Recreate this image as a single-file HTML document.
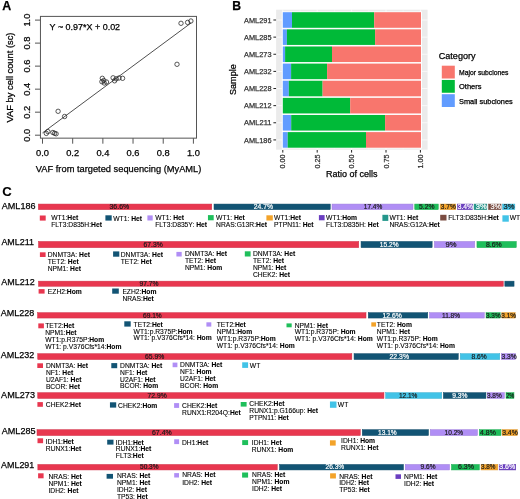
<!DOCTYPE html>
<html><head><meta charset="utf-8"><style>
html,body{margin:0;padding:0;background:#fff;}
svg{display:block;font-family:"Liberation Sans",sans-serif;will-change:transform;}
text{stroke:#000;stroke-width:0.1px;}
.h text{stroke-width:0.25px;}
</style></head><body>
<svg width="520" height="499" viewBox="0 0 520 499">
<g class="h">
<text x="2.2" y="10" font-size="12.4" font-weight="bold">A</text>
<rect x="40.45" y="16.4" width="156.05" height="121.75" fill="none" stroke="#555" stroke-width="1"/>
<line x1="35" y1="135.2" x2="40.45" y2="135.2" stroke="#555" stroke-width="1"/>
<text x="30.3" y="135.2" font-size="9.3" text-anchor="middle" transform="rotate(-90 30.3 135.2)">0.0</text>
<line x1="35" y1="112.18" x2="40.45" y2="112.18" stroke="#555" stroke-width="1"/>
<text x="30.3" y="112.18" font-size="9.3" text-anchor="middle" transform="rotate(-90 30.3 112.18)">0.2</text>
<line x1="35" y1="89.16" x2="40.45" y2="89.16" stroke="#555" stroke-width="1"/>
<text x="30.3" y="89.16" font-size="9.3" text-anchor="middle" transform="rotate(-90 30.3 89.16)">0.4</text>
<line x1="35" y1="66.14" x2="40.45" y2="66.14" stroke="#555" stroke-width="1"/>
<text x="30.3" y="66.14" font-size="9.3" text-anchor="middle" transform="rotate(-90 30.3 66.14)">0.6</text>
<line x1="35" y1="43.12" x2="40.45" y2="43.12" stroke="#555" stroke-width="1"/>
<text x="30.3" y="43.12" font-size="9.3" text-anchor="middle" transform="rotate(-90 30.3 43.12)">0.8</text>
<line x1="35" y1="20.1" x2="40.45" y2="20.1" stroke="#555" stroke-width="1"/>
<text x="30.3" y="20.1" font-size="9.3" text-anchor="middle" transform="rotate(-90 30.3 20.1)">1.0</text>
<line x1="42.5" y1="138.15" x2="42.5" y2="143.7" stroke="#555" stroke-width="1"/>
<text x="42.5" y="155.8" font-size="9.3" text-anchor="middle">0.0</text>
<line x1="72.68" y1="138.15" x2="72.68" y2="143.7" stroke="#555" stroke-width="1"/>
<text x="72.68" y="155.8" font-size="9.3" text-anchor="middle">0.2</text>
<line x1="102.86" y1="138.15" x2="102.86" y2="143.7" stroke="#555" stroke-width="1"/>
<text x="102.86" y="155.8" font-size="9.3" text-anchor="middle">0.4</text>
<line x1="133.04" y1="138.15" x2="133.04" y2="143.7" stroke="#555" stroke-width="1"/>
<text x="133.04" y="155.8" font-size="9.3" text-anchor="middle">0.6</text>
<line x1="163.22" y1="138.15" x2="163.22" y2="143.7" stroke="#555" stroke-width="1"/>
<text x="163.22" y="155.8" font-size="9.3" text-anchor="middle">0.8</text>
<line x1="193.4" y1="138.15" x2="193.4" y2="143.7" stroke="#555" stroke-width="1"/>
<text x="193.4" y="155.8" font-size="9.3" text-anchor="middle">1.0</text>
<text x="118.6" y="172.35" font-size="9.5" text-anchor="middle" textLength="165.5" lengthAdjust="spacingAndGlyphs">VAF from targeted sequencing (MyAML)</text>
<text x="13.1" y="77.5" font-size="9.3" text-anchor="middle" transform="rotate(-90 13.1 77.5)" textLength="89.8" lengthAdjust="spacingAndGlyphs">VAF by cell count (sc)</text>
<text x="49.6" y="30" font-size="9" textLength="70.5" lengthAdjust="spacingAndGlyphs">Y ~ 0.97*X + 0.02</text>
<line x1="42.5" y1="132.9" x2="191.14" y2="22.93" stroke="#222" stroke-width="0.8"/>
<circle cx="46.3" cy="133.4" r="2.2" fill="none" stroke="#222" stroke-width="0.75"/>
<circle cx="47.9" cy="131.6" r="2.2" fill="none" stroke="#222" stroke-width="0.75"/>
<circle cx="52.9" cy="132.5" r="2.2" fill="none" stroke="#222" stroke-width="0.75"/>
<circle cx="54.6" cy="133.3" r="2.2" fill="none" stroke="#222" stroke-width="0.75"/>
<circle cx="56.1" cy="133.8" r="2.2" fill="none" stroke="#222" stroke-width="0.75"/>
<circle cx="58.1" cy="111.3" r="2.2" fill="none" stroke="#222" stroke-width="0.75"/>
<circle cx="64.6" cy="116.5" r="2.2" fill="none" stroke="#222" stroke-width="0.75"/>
<circle cx="102.3" cy="78.3" r="2.2" fill="none" stroke="#222" stroke-width="0.75"/>
<circle cx="101.9" cy="81.7" r="2.2" fill="none" stroke="#222" stroke-width="0.75"/>
<circle cx="104.2" cy="83" r="2.2" fill="none" stroke="#222" stroke-width="0.75"/>
<circle cx="106.5" cy="82" r="2.2" fill="none" stroke="#222" stroke-width="0.75"/>
<circle cx="103.8" cy="80.5" r="2.2" fill="none" stroke="#222" stroke-width="0.75"/>
<circle cx="113.1" cy="77.8" r="2.2" fill="none" stroke="#222" stroke-width="0.75"/>
<circle cx="114.6" cy="80.8" r="2.2" fill="none" stroke="#222" stroke-width="0.75"/>
<circle cx="116.2" cy="78.8" r="2.2" fill="none" stroke="#222" stroke-width="0.75"/>
<circle cx="119" cy="78" r="2.2" fill="none" stroke="#222" stroke-width="0.75"/>
<circle cx="122.6" cy="78.3" r="2.2" fill="none" stroke="#222" stroke-width="0.75"/>
<circle cx="177" cy="64.3" r="2.2" fill="none" stroke="#222" stroke-width="0.75"/>
<circle cx="181" cy="23.3" r="2.2" fill="none" stroke="#222" stroke-width="0.75"/>
<circle cx="187.6" cy="22.4" r="2.2" fill="none" stroke="#222" stroke-width="0.75"/>
<circle cx="190.9" cy="21" r="2.2" fill="none" stroke="#222" stroke-width="0.75"/>
<text x="232.2" y="9.8" font-size="12.2" font-weight="bold">B</text>
<rect x="276.1" y="9.7" width="151.5" height="140" fill="#ebebeb"/>
<line x1="300" y1="9.7" x2="300" y2="149.7" stroke="#fff" stroke-width="0.35"/>
<line x1="334.4" y1="9.7" x2="334.4" y2="149.7" stroke="#fff" stroke-width="0.35"/>
<line x1="368.8" y1="9.7" x2="368.8" y2="149.7" stroke="#fff" stroke-width="0.35"/>
<line x1="403.2" y1="9.7" x2="403.2" y2="149.7" stroke="#fff" stroke-width="0.35"/>
<line x1="282.8" y1="9.7" x2="282.8" y2="149.7" stroke="#fff" stroke-width="0.7"/>
<line x1="317.2" y1="9.7" x2="317.2" y2="149.7" stroke="#fff" stroke-width="0.7"/>
<line x1="351.6" y1="9.7" x2="351.6" y2="149.7" stroke="#fff" stroke-width="0.7"/>
<line x1="386" y1="9.7" x2="386" y2="149.7" stroke="#fff" stroke-width="0.7"/>
<line x1="420.4" y1="9.7" x2="420.4" y2="149.7" stroke="#fff" stroke-width="0.7"/>
<line x1="276.1" y1="20" x2="427.6" y2="20" stroke="#fff" stroke-width="0.7"/>
<line x1="276.1" y1="37.13" x2="427.6" y2="37.13" stroke="#fff" stroke-width="0.7"/>
<line x1="276.1" y1="54.26" x2="427.6" y2="54.26" stroke="#fff" stroke-width="0.7"/>
<line x1="276.1" y1="71.39" x2="427.6" y2="71.39" stroke="#fff" stroke-width="0.7"/>
<line x1="276.1" y1="88.52" x2="427.6" y2="88.52" stroke="#fff" stroke-width="0.7"/>
<line x1="276.1" y1="105.65" x2="427.6" y2="105.65" stroke="#fff" stroke-width="0.7"/>
<line x1="276.1" y1="122.78" x2="427.6" y2="122.78" stroke="#fff" stroke-width="0.7"/>
<line x1="276.1" y1="139.91" x2="427.6" y2="139.91" stroke="#fff" stroke-width="0.7"/>
<rect x="281.8" y="11.4" width="140.2" height="17.2" fill="#fff"/>
<rect x="282.8" y="12.2" width="9.2" height="15.6" fill="#619cff"/>
<rect x="292" y="12.2" width="82.2" height="15.6" fill="#00ba38"/>
<rect x="374.2" y="12.2" width="46.8" height="15.6" fill="#f8766d"/>
<line x1="273.4" y1="20" x2="276.1" y2="20" stroke="#222" stroke-width="1"/>
<text x="271.5" y="22.7" font-size="7.6" text-anchor="end" fill="#333" style="stroke:#333;" textLength="27.4" lengthAdjust="spacingAndGlyphs">AML291</text>
<rect x="281.8" y="28.53" width="140.2" height="17.2" fill="#fff"/>
<rect x="282.8" y="29.33" width="4.1" height="15.6" fill="#619cff"/>
<rect x="286.9" y="29.33" width="88.2" height="15.6" fill="#00ba38"/>
<rect x="375.1" y="29.33" width="45.9" height="15.6" fill="#f8766d"/>
<line x1="273.4" y1="37.13" x2="276.1" y2="37.13" stroke="#222" stroke-width="1"/>
<text x="271.5" y="39.83" font-size="7.6" text-anchor="end" fill="#333" style="stroke:#333;" textLength="27.4" lengthAdjust="spacingAndGlyphs">AML285</text>
<rect x="281.8" y="45.66" width="140.2" height="17.2" fill="#fff"/>
<rect x="282.8" y="46.46" width="2.3" height="15.6" fill="#619cff"/>
<rect x="285.1" y="46.46" width="46.9" height="15.6" fill="#00ba38"/>
<rect x="332" y="46.46" width="89" height="15.6" fill="#f8766d"/>
<line x1="273.4" y1="54.26" x2="276.1" y2="54.26" stroke="#222" stroke-width="1"/>
<text x="271.5" y="56.96" font-size="7.6" text-anchor="end" fill="#333" style="stroke:#333;" textLength="27.4" lengthAdjust="spacingAndGlyphs">AML273</text>
<rect x="281.8" y="62.79" width="140.2" height="17.2" fill="#fff"/>
<rect x="282.8" y="63.59" width="8.3" height="15.6" fill="#619cff"/>
<rect x="291.1" y="63.59" width="36" height="15.6" fill="#00ba38"/>
<rect x="327.1" y="63.59" width="93.9" height="15.6" fill="#f8766d"/>
<line x1="273.4" y1="71.39" x2="276.1" y2="71.39" stroke="#222" stroke-width="1"/>
<text x="271.5" y="74.09" font-size="7.6" text-anchor="end" fill="#333" style="stroke:#333;" textLength="27.4" lengthAdjust="spacingAndGlyphs">AML232</text>
<rect x="281.8" y="79.92" width="140.2" height="17.2" fill="#fff"/>
<rect x="282.8" y="80.72" width="6" height="15.6" fill="#619cff"/>
<rect x="288.8" y="80.72" width="33.8" height="15.6" fill="#00ba38"/>
<rect x="322.6" y="80.72" width="98.4" height="15.6" fill="#f8766d"/>
<line x1="273.4" y1="88.52" x2="276.1" y2="88.52" stroke="#222" stroke-width="1"/>
<text x="271.5" y="91.22" font-size="7.6" text-anchor="end" fill="#333" style="stroke:#333;" textLength="27.4" lengthAdjust="spacingAndGlyphs">AML228</text>
<rect x="281.8" y="97.05" width="140.2" height="17.2" fill="#fff"/>
<rect x="282.8" y="97.85" width="67.4" height="15.6" fill="#00ba38"/>
<rect x="350.2" y="97.85" width="70.8" height="15.6" fill="#f8766d"/>
<line x1="273.4" y1="105.65" x2="276.1" y2="105.65" stroke="#222" stroke-width="1"/>
<text x="271.5" y="108.35" font-size="7.6" text-anchor="end" fill="#333" style="stroke:#333;" textLength="27.4" lengthAdjust="spacingAndGlyphs">AML212</text>
<rect x="281.8" y="114.18" width="140.2" height="17.2" fill="#fff"/>
<rect x="282.8" y="114.98" width="8.4" height="15.6" fill="#619cff"/>
<rect x="291.2" y="114.98" width="93.9" height="15.6" fill="#00ba38"/>
<rect x="385.1" y="114.98" width="35.9" height="15.6" fill="#f8766d"/>
<line x1="273.4" y1="122.78" x2="276.1" y2="122.78" stroke="#222" stroke-width="1"/>
<text x="271.5" y="125.48" font-size="7.6" text-anchor="end" fill="#333" style="stroke:#333;" textLength="27.4" lengthAdjust="spacingAndGlyphs">AML211</text>
<rect x="281.8" y="131.31" width="140.2" height="17.2" fill="#fff"/>
<rect x="282.8" y="132.11" width="4.9" height="15.6" fill="#619cff"/>
<rect x="287.7" y="132.11" width="78.3" height="15.6" fill="#00ba38"/>
<rect x="366" y="132.11" width="55" height="15.6" fill="#f8766d"/>
<line x1="273.4" y1="139.91" x2="276.1" y2="139.91" stroke="#222" stroke-width="1"/>
<text x="271.5" y="142.61" font-size="7.6" text-anchor="end" fill="#333" style="stroke:#333;" textLength="27.4" lengthAdjust="spacingAndGlyphs">AML186</text>
<line x1="282.8" y1="150" x2="282.8" y2="152.6" stroke="#222" stroke-width="1"/>
<text x="285.4" y="154.6" font-size="7.2" text-anchor="end" fill="#333" style="stroke:#333;" transform="rotate(-90 285.4 154.6)">0.00</text>
<line x1="317.2" y1="150" x2="317.2" y2="152.6" stroke="#222" stroke-width="1"/>
<text x="319.8" y="154.6" font-size="7.2" text-anchor="end" fill="#333" style="stroke:#333;" transform="rotate(-90 319.8 154.6)">0.25</text>
<line x1="351.6" y1="150" x2="351.6" y2="152.6" stroke="#222" stroke-width="1"/>
<text x="354.2" y="154.6" font-size="7.2" text-anchor="end" fill="#333" style="stroke:#333;" transform="rotate(-90 354.2 154.6)">0.50</text>
<line x1="386" y1="150" x2="386" y2="152.6" stroke="#222" stroke-width="1"/>
<text x="388.6" y="154.6" font-size="7.2" text-anchor="end" fill="#333" style="stroke:#333;" transform="rotate(-90 388.6 154.6)">0.75</text>
<line x1="420.4" y1="150" x2="420.4" y2="152.6" stroke="#222" stroke-width="1"/>
<text x="423" y="154.6" font-size="7.2" text-anchor="end" fill="#333" style="stroke:#333;" transform="rotate(-90 423 154.6)">1.00</text>
<text x="351.8" y="177.2" font-size="9" text-anchor="middle">Ratio of cells</text>
<text x="235.7" y="79.6" font-size="9.1" text-anchor="middle" transform="rotate(-90 235.7 79.6)">Sample</text>
<text x="438.7" y="59.4" font-size="9.1">Category</text>
<rect x="441.8" y="65.7" width="13" height="12.8" fill="#f8766d"/>
<text x="459" y="75.05" font-size="7.1" textLength="49.5" lengthAdjust="spacingAndGlyphs">Major subclones</text>
<rect x="441.8" y="79.95" width="13" height="12.8" fill="#00ba38"/>
<text x="459" y="89.3" font-size="7.1" textLength="22.5" lengthAdjust="spacingAndGlyphs">Others</text>
<rect x="441.8" y="94.2" width="13" height="12.8" fill="#619cff"/>
<text x="459" y="103.55" font-size="7.1" textLength="53.7" lengthAdjust="spacingAndGlyphs">Small subclones</text>
</g>
<text x="2.2" y="196.3" font-size="13.2" font-weight="bold">C</text>
<text x="1.8" y="208.8" font-size="9.5" style="stroke-width:0.25px;" textLength="33.7" lengthAdjust="spacingAndGlyphs">AML186</text>
<rect x="38.35" y="204.05" width="173.4" height="5.6" fill="#e8374f" stroke="#d03147" stroke-width="0.5"/>
<text x="109.5" y="209" font-size="7" fill="#1a1a1a" style="stroke:#1a1a1a;stroke-width:0.2px;" textLength="19.75" lengthAdjust="spacingAndGlyphs">36.6%</text>
<rect x="214" y="204.05" width="116.25" height="5.6" fill="#125474" stroke="#104b68" stroke-width="0.5"/>
<text x="253.75" y="209" font-size="7" fill="#fff" style="stroke:#fff;stroke-width:0.2px;" textLength="19.25" lengthAdjust="spacingAndGlyphs">24.7%</text>
<rect x="332" y="204.05" width="81" height="5.6" fill="#b08ef5" stroke="#9e7fdc" stroke-width="0.5"/>
<text x="363.75" y="209" font-size="7" fill="#1a1a1a" style="stroke:#1a1a1a;stroke-width:0.2px;" textLength="18.5" lengthAdjust="spacingAndGlyphs">17.4%</text>
<rect x="414.75" y="204.05" width="23.5" height="5.6" fill="#1fbf5b" stroke="#1bab51" stroke-width="0.5"/>
<text x="419.1" y="209" font-size="7" fill="#1a1a1a" style="stroke:#1a1a1a;stroke-width:0.2px;" textLength="15.4" lengthAdjust="spacingAndGlyphs">5.2%</text>
<rect x="440.15" y="204.05" width="15.6" height="5.6" fill="#f3a32a" stroke="#da9225" stroke-width="0.5"/>
<text x="440.8" y="209" font-size="7" fill="#1a1a1a" style="stroke:#1a1a1a;stroke-width:0.2px;" textLength="14.9" lengthAdjust="spacingAndGlyphs">3.7%</text>
<rect x="457.45" y="204.05" width="15.2" height="5.6" fill="#6a3ec0" stroke="#5f37ac" stroke-width="0.5"/>
<text x="457.7" y="209" font-size="7" fill="#fff" style="stroke:#fff;stroke-width:0.2px;" textLength="15.2" lengthAdjust="spacingAndGlyphs">3.4%</text>
<rect x="474.05" y="204.05" width="12.8" height="5.6" fill="#24978b" stroke="#20877d" stroke-width="0.5"/>
<text x="475.8" y="209" font-size="7" fill="#fff" style="stroke:#fff;stroke-width:0.2px;" textLength="10.9" lengthAdjust="spacingAndGlyphs">3%</text>
<rect x="488.55" y="204.05" width="12.5" height="5.6" fill="#7a4c41" stroke="#6d443a" stroke-width="0.5"/>
<text x="490.5" y="209" font-size="7" fill="#fff" style="stroke:#fff;stroke-width:0.2px;" textLength="10.6" lengthAdjust="spacingAndGlyphs">3%</text>
<rect x="502.55" y="204.05" width="12.3" height="5.6" fill="#42c3e7" stroke="#3bafcf" stroke-width="0.5"/>
<text x="503.5" y="209" font-size="7" fill="#1a1a1a" style="stroke:#1a1a1a;stroke-width:0.2px;" textLength="10.9" lengthAdjust="spacingAndGlyphs">3%</text>
<rect x="39.8" y="215.5" width="5.9" height="5.1" fill="#e8374f"/>
<text x="51.25" y="220.3" font-size="6.72">WT1:<tspan font-weight="bold">Het</tspan></text>
<text x="51.25" y="227.3" font-size="6.72">FLT3:D835H:<tspan font-weight="bold">Het</tspan></text>
<rect x="105.4" y="215.3" width="6.3" height="5.3" fill="#125474"/>
<text x="113.25" y="220.5" font-size="6.72">WT1: <tspan font-weight="bold">Het</tspan></text>
<rect x="147.4" y="215.4" width="5.3" height="5.1" fill="#b08ef5"/>
<text x="155.25" y="220.4" font-size="6.72">WT1: <tspan font-weight="bold">Het</tspan></text>
<text x="155.25" y="227.4" font-size="6.72">FLT3:D835Y: <tspan font-weight="bold">Het</tspan></text>
<rect x="207.95" y="215.1" width="5.75" height="5.2" fill="#1fbf5b"/>
<text x="216.1" y="219.9" font-size="6.72">WT1: <tspan font-weight="bold">Het</tspan></text>
<text x="216.1" y="226.9" font-size="6.72">NRAS:G13R:<tspan font-weight="bold">Het</tspan></text>
<rect x="266.4" y="215.3" width="6.4" height="5.2" fill="#f3a32a"/>
<text x="274.1" y="219.9" font-size="6.72">WT1:<tspan font-weight="bold">Het</tspan></text>
<text x="274.1" y="226.9" font-size="6.72">PTPN11: <tspan font-weight="bold">Het</tspan></text>
<rect x="318.9" y="215.1" width="5.7" height="5.2" fill="#6a3ec0"/>
<text x="326.1" y="219.9" font-size="6.72">WT1:<tspan font-weight="bold">Hom</tspan></text>
<text x="326.1" y="226.9" font-size="6.72">FLT3:D835H: <tspan font-weight="bold">Het</tspan></text>
<rect x="382.4" y="214.8" width="5.9" height="6.1" fill="#24978b"/>
<text x="389.4" y="219.8" font-size="6.72">WT1: <tspan font-weight="bold">Het</tspan></text>
<text x="389.4" y="226.8" font-size="6.72">NRAS:G12A:<tspan font-weight="bold">Het</tspan></text>
<rect x="440.2" y="214.8" width="6.3" height="5.7" fill="#7a4c41"/>
<text x="448.2" y="220.4" font-size="6.72">FLT3:D835H:<tspan font-weight="bold">Het</tspan></text>
<rect x="502.4" y="215.3" width="6.4" height="6.4" fill="#42c3e7"/>
<text x="509.7" y="220.4" font-size="6.72">WT</text>
<text x="1.4" y="244.8" font-size="9.5" style="stroke-width:0.25px;" textLength="32.6" lengthAdjust="spacingAndGlyphs">AML211</text>
<rect x="38.5" y="241.45" width="320.25" height="6.2" fill="#e8374f" stroke="#d03147" stroke-width="0.5"/>
<text x="143.5" y="246.7" font-size="7" fill="#1a1a1a" style="stroke:#1a1a1a;stroke-width:0.2px;" textLength="19.2" lengthAdjust="spacingAndGlyphs">67.3%</text>
<rect x="361.05" y="241.45" width="71.1" height="6.2" fill="#125474" stroke="#104b68" stroke-width="0.5"/>
<text x="379.8" y="246.7" font-size="7" fill="#fff" style="stroke:#fff;stroke-width:0.2px;" textLength="18.7" lengthAdjust="spacingAndGlyphs">15.2%</text>
<rect x="434.35" y="241.45" width="40.4" height="6.2" fill="#b08ef5" stroke="#9e7fdc" stroke-width="0.5"/>
<text x="445.5" y="246.7" font-size="7" fill="#1a1a1a" style="stroke:#1a1a1a;stroke-width:0.2px;" textLength="11" lengthAdjust="spacingAndGlyphs">9%</text>
<rect x="476.95" y="241.45" width="39.3" height="6.2" fill="#1fbf5b" stroke="#1bab51" stroke-width="0.5"/>
<text x="485.9" y="246.7" font-size="7" fill="#1a1a1a" style="stroke:#1a1a1a;stroke-width:0.2px;" textLength="15.8" lengthAdjust="spacingAndGlyphs">8.6%</text>
<rect x="39.9" y="252.3" width="5.7" height="4.7" fill="#e8374f"/>
<text x="47.7" y="256.6" font-size="6.72">DNMT3A: <tspan font-weight="bold">Het</tspan></text>
<text x="47.7" y="263.6" font-size="6.72">TET2: <tspan font-weight="bold">Het</tspan></text>
<text x="47.7" y="270.6" font-size="6.72">NPM1: <tspan font-weight="bold">Het</tspan></text>
<rect x="113.1" y="251.4" width="6.2" height="5.3" fill="#125474"/>
<text x="120.7" y="256.5" font-size="6.72">DNMT3A: <tspan font-weight="bold">Het</tspan></text>
<text x="120.7" y="263.5" font-size="6.72">TET2: <tspan font-weight="bold">Het</tspan></text>
<rect x="176.4" y="251.9" width="5.3" height="4.6" fill="#b08ef5"/>
<text x="184.9" y="256.1" font-size="6.72">DNMT3A: <tspan font-weight="bold">Het</tspan></text>
<text x="184.9" y="263.1" font-size="6.72">TET2: <tspan font-weight="bold">Het</tspan></text>
<text x="184.9" y="270.1" font-size="6.72">NPM1: <tspan font-weight="bold">Hom</tspan></text>
<rect x="244.8" y="251.3" width="5.8" height="5.2" fill="#1fbf5b"/>
<text x="253" y="255.6" font-size="6.72">DNMT3A: <tspan font-weight="bold">Het</tspan></text>
<text x="253" y="262.6" font-size="6.72">TET2: <tspan font-weight="bold">Het</tspan></text>
<text x="253" y="269.6" font-size="6.72">NPM1: <tspan font-weight="bold">Het</tspan></text>
<text x="253" y="276.6" font-size="6.72">CHEK2: <tspan font-weight="bold">Het</tspan></text>
<text x="1.3" y="284.7" font-size="9.5" style="stroke-width:0.25px;" textLength="33.4" lengthAdjust="spacingAndGlyphs">AML212</text>
<rect x="38.5" y="281.15" width="464.75" height="5.1" fill="#e8374f" stroke="#d03147" stroke-width="0.5"/>
<text x="139.5" y="285.85" font-size="7" fill="#1a1a1a" style="stroke:#1a1a1a;stroke-width:0.2px;" textLength="19" lengthAdjust="spacingAndGlyphs">97.7%</text>
<rect x="504.85" y="281.15" width="9.2" height="5.1" fill="#125474" stroke="#104b68" stroke-width="0.5"/>
<rect x="38.6" y="289.1" width="6" height="4.5" fill="#e8374f"/>
<text x="47.8" y="293.5" font-size="6.72">EZH2:<tspan font-weight="bold">Hom</tspan></text>
<rect x="112.2" y="288.5" width="6.6" height="5.2" fill="#125474"/>
<text x="122.4" y="293.8" font-size="6.72">EZH2:<tspan font-weight="bold">Hom</tspan></text>
<text x="122.4" y="301" font-size="6.72">NRAS:<tspan font-weight="bold">Het</tspan></text>
<text x="0.8" y="315.5" font-size="9.5" style="stroke-width:0.25px;" textLength="33.5" lengthAdjust="spacingAndGlyphs">AML228</text>
<rect x="37.55" y="312.65" width="328.45" height="5.4" fill="#e8374f" stroke="#d03147" stroke-width="0.5"/>
<text x="143" y="317.5" font-size="7" fill="#1a1a1a" style="stroke:#1a1a1a;stroke-width:0.2px;" textLength="18.75" lengthAdjust="spacingAndGlyphs">69.1%</text>
<rect x="368.25" y="312.65" width="59.5" height="5.4" fill="#125474" stroke="#104b68" stroke-width="0.5"/>
<text x="382.5" y="317.5" font-size="7" fill="#fff" style="stroke:#fff;stroke-width:0.2px;" textLength="19.25" lengthAdjust="spacingAndGlyphs">12.6%</text>
<rect x="429.5" y="312.65" width="54.75" height="5.4" fill="#b08ef5" stroke="#9e7fdc" stroke-width="0.5"/>
<text x="442" y="317.5" font-size="7" fill="#1a1a1a" style="stroke:#1a1a1a;stroke-width:0.2px;" textLength="18" lengthAdjust="spacingAndGlyphs">11.8%</text>
<rect x="486.05" y="312.65" width="14.1" height="5.4" fill="#1fbf5b" stroke="#1bab51" stroke-width="0.5"/>
<text x="486" y="317.5" font-size="7" fill="#1a1a1a" style="stroke:#1a1a1a;stroke-width:0.2px;" textLength="14.7" lengthAdjust="spacingAndGlyphs">3.3%</text>
<rect x="501.85" y="312.65" width="13.3" height="5.4" fill="#f3a32a" stroke="#da9225" stroke-width="0.5"/>
<text x="501.3" y="317.5" font-size="7" fill="#1a1a1a" style="stroke:#1a1a1a;stroke-width:0.2px;" textLength="14.8" lengthAdjust="spacingAndGlyphs">3.1%</text>
<rect x="38.3" y="323.4" width="5.6" height="4.9" fill="#e8374f"/>
<text x="45.2" y="327.5" font-size="6.72">TET2:<tspan font-weight="bold">Het</tspan></text>
<text x="45.2" y="334.55" font-size="6.72">NPM1:<tspan font-weight="bold">Het</tspan></text>
<text x="45.2" y="341.6" font-size="6.72">WT1:p.R375P:<tspan font-weight="bold">Hom</tspan></text>
<text x="45.2" y="348.65" font-size="6.72">WT1: p.V376Cfs*14:<tspan font-weight="bold">Hom</tspan></text>
<rect x="124.3" y="321.3" width="6.4" height="5.3" fill="#125474"/>
<text x="133.6" y="326.8" font-size="6.72">TET2:<tspan font-weight="bold">Het</tspan></text>
<text x="133.6" y="333.6" font-size="6.72">WT1:p.R375P:<tspan font-weight="bold">Hom</tspan></text>
<text x="133.6" y="340.4" font-size="6.72">WT1: p.V376Cfs*14: <tspan font-weight="bold">Hom</tspan></text>
<rect x="206.4" y="322.3" width="4.9" height="4.3" fill="#b08ef5"/>
<text x="216.7" y="326.9" font-size="6.72">TET2:<tspan font-weight="bold">Het</tspan></text>
<text x="216.7" y="333.77" font-size="6.72">NPM1:<tspan font-weight="bold">Hom</tspan></text>
<text x="216.7" y="340.64" font-size="6.72">WT1:p.R375P:<tspan font-weight="bold">Hom</tspan></text>
<text x="216.7" y="347.51" font-size="6.72">WT1: p.V376Cfs*14: <tspan font-weight="bold">Hom</tspan></text>
<rect x="286.5" y="323.4" width="5.2" height="3.9" fill="#1fbf5b"/>
<text x="294.7" y="327.5" font-size="6.72">NPM1: <tspan font-weight="bold">Het</tspan></text>
<text x="294.7" y="334.45" font-size="6.72">WT1:p.R375P: <tspan font-weight="bold">Hom</tspan></text>
<text x="294.7" y="341.4" font-size="6.72">WT1: p.V376Cfs*14: <tspan font-weight="bold">Hom</tspan></text>
<rect x="371.3" y="322.3" width="4.7" height="4.3" fill="#f3a32a"/>
<text x="376.8" y="326.9" font-size="6.72">TET2: <tspan font-weight="bold">Hom</tspan></text>
<text x="376.8" y="333.77" font-size="6.72">NPM1: <tspan font-weight="bold">Het</tspan></text>
<text x="376.8" y="340.64" font-size="6.72">WT1:p.R375P: <tspan font-weight="bold">Hom</tspan></text>
<text x="376.8" y="347.51" font-size="6.72">WT1: p.V376Cfs*14: <tspan font-weight="bold">Hom</tspan></text>
<text x="0.8" y="357.9" font-size="9.5" style="stroke-width:0.25px;" textLength="33.5" lengthAdjust="spacingAndGlyphs">AML232</text>
<rect x="37.75" y="353.65" width="314.1" height="5.9" fill="#e8374f" stroke="#d03147" stroke-width="0.5"/>
<text x="145" y="358.75" font-size="7" fill="#1a1a1a" style="stroke:#1a1a1a;stroke-width:0.2px;" textLength="19.25" lengthAdjust="spacingAndGlyphs">65.9%</text>
<rect x="354.05" y="353.65" width="104.2" height="5.9" fill="#125474" stroke="#104b68" stroke-width="0.5"/>
<text x="389.5" y="358.75" font-size="7" fill="#fff" style="stroke:#fff;stroke-width:0.2px;" textLength="19.5" lengthAdjust="spacingAndGlyphs">22.3%</text>
<rect x="460.25" y="353.65" width="39.5" height="5.9" fill="#42c3e7" stroke="#3bafcf" stroke-width="0.5"/>
<text x="471.5" y="358.75" font-size="7" fill="#1a1a1a" style="stroke:#1a1a1a;stroke-width:0.2px;" textLength="15.2" lengthAdjust="spacingAndGlyphs">8.6%</text>
<rect x="501.25" y="353.65" width="14.2" height="5.9" fill="#b08ef5" stroke="#9e7fdc" stroke-width="0.5"/>
<text x="501.5" y="358.75" font-size="7" fill="#1a1a1a" style="stroke:#1a1a1a;stroke-width:0.2px;" textLength="15.2" lengthAdjust="spacingAndGlyphs">3.3%</text>
<rect x="37.3" y="363.3" width="5.7" height="4.7" fill="#e8374f"/>
<text x="45.9" y="367.7" font-size="6.72">DNMT3A: <tspan font-weight="bold">Het</tspan></text>
<text x="45.9" y="374.7" font-size="6.72">NF1: <tspan font-weight="bold">Het</tspan></text>
<text x="45.9" y="381.7" font-size="6.72">U2AF1: <tspan font-weight="bold">Het</tspan></text>
<text x="45.9" y="388.7" font-size="6.72">BCOR: <tspan font-weight="bold">Het</tspan></text>
<rect x="111.3" y="363.1" width="5.9" height="5.1" fill="#125474"/>
<text x="120.1" y="367.9" font-size="6.72">DNMT3A: <tspan font-weight="bold">Het</tspan></text>
<text x="120.1" y="374.7" font-size="6.72">NF1: <tspan font-weight="bold">Het</tspan></text>
<text x="120.1" y="381.5" font-size="6.72">U2AF1: <tspan font-weight="bold">Het</tspan></text>
<text x="120.1" y="388.3" font-size="6.72">BCOR: <tspan font-weight="bold">Hom</tspan></text>
<rect x="172.6" y="362.6" width="4.8" height="4.6" fill="#b08ef5"/>
<text x="180.1" y="367.4" font-size="6.72">DNMT3A: <tspan font-weight="bold">Het</tspan></text>
<text x="180.1" y="374.27" font-size="6.72">NF1: <tspan font-weight="bold">Hom</tspan></text>
<text x="180.1" y="381.14" font-size="6.72">U2AF1: <tspan font-weight="bold">Het</tspan></text>
<text x="180.1" y="388.01" font-size="6.72">BCOR: <tspan font-weight="bold">Hom</tspan></text>
<rect x="242.2" y="362.3" width="5.9" height="5.6" fill="#42c3e7"/>
<text x="249.8" y="367.8" font-size="6.72">WT</text>
<text x="1.1" y="397.9" font-size="9.5" style="stroke-width:0.25px;" textLength="33.9" lengthAdjust="spacingAndGlyphs">AML273</text>
<rect x="37.75" y="392.65" width="346.2" height="5.8" fill="#e8374f" stroke="#d03147" stroke-width="0.5"/>
<text x="147.5" y="397.7" font-size="7" fill="#1a1a1a" style="stroke:#1a1a1a;stroke-width:0.2px;" textLength="19.25" lengthAdjust="spacingAndGlyphs">72.9%</text>
<rect x="385.65" y="392.65" width="56.1" height="5.8" fill="#42c3e7" stroke="#3bafcf" stroke-width="0.5"/>
<text x="398.9" y="397.7" font-size="7" fill="#1a1a1a" style="stroke:#1a1a1a;stroke-width:0.2px;" textLength="18.5" lengthAdjust="spacingAndGlyphs">12.1%</text>
<rect x="443.35" y="392.65" width="42.6" height="5.8" fill="#125474" stroke="#104b68" stroke-width="0.5"/>
<text x="452.3" y="397.7" font-size="7" fill="#fff" style="stroke:#fff;stroke-width:0.2px;" textLength="15.2" lengthAdjust="spacingAndGlyphs">9.3%</text>
<rect x="487.25" y="392.65" width="17.1" height="5.8" fill="#b08ef5" stroke="#9e7fdc" stroke-width="0.5"/>
<text x="486.9" y="397.7" font-size="7" fill="#1a1a1a" style="stroke:#1a1a1a;stroke-width:0.2px;" textLength="14.8" lengthAdjust="spacingAndGlyphs">3.8%</text>
<rect x="506.05" y="392.65" width="7.9" height="5.8" fill="#1fbf5b" stroke="#1bab51" stroke-width="0.5"/>
<text x="506.2" y="397.7" font-size="6.28" fill="#1a1a1a" style="stroke:#1a1a1a;stroke-width:0.2px;" textLength="8.1" lengthAdjust="spacingAndGlyphs">2%</text>
<rect x="37.4" y="402.1" width="5.5" height="4.7" fill="#e8374f"/>
<text x="45.8" y="407.3" font-size="6.72">CHEK2:<tspan font-weight="bold">Het</tspan></text>
<rect x="109.95" y="402.3" width="6.25" height="5.3" fill="#125474"/>
<text x="118.1" y="407.8" font-size="6.72">CHEK2:<tspan font-weight="bold">Hom</tspan></text>
<rect x="174.1" y="403.1" width="5" height="4.8" fill="#b08ef5"/>
<text x="182.1" y="407.5" font-size="6.72">CHEK2:<tspan font-weight="bold">Het</tspan></text>
<text x="182.1" y="414.5" font-size="6.72">RUNX1:R204Q:<tspan font-weight="bold">Het</tspan></text>
<rect x="240.7" y="402" width="5.9" height="4.6" fill="#1fbf5b"/>
<text x="249.3" y="405.8" font-size="6.72">CHEK2:<tspan font-weight="bold">Het</tspan></text>
<text x="249.3" y="412.75" font-size="6.72">RUNX1:p.G166up: <tspan font-weight="bold">Het</tspan></text>
<text x="249.3" y="419.7" font-size="6.72">PTPN11: <tspan font-weight="bold">Het</tspan></text>
<rect x="329.95" y="401.5" width="6.55" height="6.3" fill="#42c3e7"/>
<text x="337.8" y="407" font-size="6.72">WT</text>
<text x="1.8" y="433.5" font-size="9.5" style="stroke-width:0.25px;" textLength="33.7" lengthAdjust="spacingAndGlyphs">AML285</text>
<rect x="37" y="429.65" width="323.25" height="5.9" fill="#e8374f" stroke="#d03147" stroke-width="0.5"/>
<text x="152" y="434.75" font-size="7" fill="#1a1a1a" style="stroke:#1a1a1a;stroke-width:0.2px;" textLength="19.75" lengthAdjust="spacingAndGlyphs">67.4%</text>
<rect x="362.25" y="429.65" width="66.25" height="5.9" fill="#125474" stroke="#104b68" stroke-width="0.5"/>
<text x="378" y="434.75" font-size="7" fill="#fff" style="stroke:#fff;stroke-width:0.2px;" textLength="18.75" lengthAdjust="spacingAndGlyphs">13.1%</text>
<rect x="430.25" y="429.65" width="47.2" height="5.9" fill="#b08ef5" stroke="#9e7fdc" stroke-width="0.5"/>
<text x="444.6" y="434.75" font-size="7" fill="#1a1a1a" style="stroke:#1a1a1a;stroke-width:0.2px;" textLength="18.6" lengthAdjust="spacingAndGlyphs">10.2%</text>
<rect x="479.25" y="429.65" width="21.7" height="5.9" fill="#1fbf5b" stroke="#1bab51" stroke-width="0.5"/>
<text x="480.1" y="434.75" font-size="7" fill="#1a1a1a" style="stroke:#1a1a1a;stroke-width:0.2px;" textLength="15.7" lengthAdjust="spacingAndGlyphs">4.8%</text>
<rect x="502.05" y="429.65" width="15.2" height="5.9" fill="#f3a32a" stroke="#da9225" stroke-width="0.5"/>
<text x="502.2" y="434.75" font-size="7" fill="#1a1a1a" style="stroke:#1a1a1a;stroke-width:0.2px;" textLength="15.5" lengthAdjust="spacingAndGlyphs">3.4%</text>
<rect x="37.5" y="438.3" width="5.6" height="4.9" fill="#e8374f"/>
<text x="45.8" y="443.8" font-size="6.72">IDH1:<tspan font-weight="bold">Het</tspan></text>
<text x="45.8" y="450.8" font-size="6.72">RUNX1:<tspan font-weight="bold">Het</tspan></text>
<rect x="107.2" y="439.7" width="6.3" height="4.9" fill="#125474"/>
<text x="115.8" y="444.7" font-size="6.72">IDH1:<tspan font-weight="bold">Het</tspan></text>
<text x="115.8" y="451.4" font-size="6.72">RUNX1:<tspan font-weight="bold">Het</tspan></text>
<text x="115.8" y="458.1" font-size="6.72">FLT3:<tspan font-weight="bold">Het</tspan></text>
<rect x="174.2" y="439.3" width="4.9" height="4.8" fill="#b08ef5"/>
<text x="182" y="444.7" font-size="6.72">DH1:<tspan font-weight="bold">Het</tspan></text>
<rect x="242.2" y="440.1" width="5.9" height="4.95" fill="#1fbf5b"/>
<text x="251.8" y="445" font-size="6.72">IDH1: <tspan font-weight="bold">Het</tspan></text>
<text x="251.8" y="451.6" font-size="6.72">RUNX1: <tspan font-weight="bold">Hom</tspan></text>
<rect x="329.95" y="440.3" width="5.75" height="5.3" fill="#f3a32a"/>
<text x="341.1" y="443.1" font-size="6.72">IDH1: <tspan font-weight="bold">Hom</tspan></text>
<text x="341.1" y="449.9" font-size="6.72">RUNX1: <tspan font-weight="bold">Het</tspan></text>
<text x="1.1" y="468.3" font-size="9.5" style="stroke-width:0.25px;" textLength="33.2" lengthAdjust="spacingAndGlyphs">AML291</text>
<rect x="37.85" y="464.45" width="239.4" height="5.5" fill="#e8374f" stroke="#d03147" stroke-width="0.5"/>
<text x="140" y="469.35" font-size="7" fill="#1a1a1a" style="stroke:#1a1a1a;stroke-width:0.2px;" textLength="18.5" lengthAdjust="spacingAndGlyphs">50.3%</text>
<rect x="279.5" y="464.45" width="124" height="5.5" fill="#125474" stroke="#104b68" stroke-width="0.5"/>
<text x="325.5" y="469.35" font-size="7" fill="#fff" style="stroke:#fff;stroke-width:0.2px;" textLength="18.75" lengthAdjust="spacingAndGlyphs">26.3%</text>
<rect x="405.25" y="464.45" width="44.3" height="5.5" fill="#b08ef5" stroke="#9e7fdc" stroke-width="0.5"/>
<text x="420.5" y="469.35" font-size="7" fill="#1a1a1a" style="stroke:#1a1a1a;stroke-width:0.2px;" textLength="15" lengthAdjust="spacingAndGlyphs">9.6%</text>
<rect x="451.45" y="464.45" width="27.9" height="5.5" fill="#1fbf5b" stroke="#1bab51" stroke-width="0.5"/>
<text x="458" y="469.35" font-size="7" fill="#1a1a1a" style="stroke:#1a1a1a;stroke-width:0.2px;" textLength="16" lengthAdjust="spacingAndGlyphs">6.3%</text>
<rect x="481.05" y="464.45" width="16.7" height="5.5" fill="#f3a32a" stroke="#da9225" stroke-width="0.5"/>
<text x="481" y="469.35" font-size="7" fill="#1a1a1a" style="stroke:#1a1a1a;stroke-width:0.2px;" textLength="14.5" lengthAdjust="spacingAndGlyphs">3.8%</text>
<rect x="499.15" y="464.45" width="16.6" height="5.5" fill="#6a3ec0" stroke="#5f37ac" stroke-width="0.5"/>
<text x="499.3" y="469.35" font-size="7" fill="#fff" style="stroke:#fff;stroke-width:0.2px;" textLength="15.9" lengthAdjust="spacingAndGlyphs">3.6%</text>
<rect x="38.1" y="473.3" width="5.5" height="5" fill="#e8374f"/>
<text x="48.5" y="478.7" font-size="6.72">NRAS: <tspan font-weight="bold">Het</tspan></text>
<text x="48.5" y="485.6" font-size="6.72">NPM1: <tspan font-weight="bold">Het</tspan></text>
<text x="48.5" y="492.5" font-size="6.72">IDH2: <tspan font-weight="bold">Het</tspan></text>
<rect x="106.6" y="473.9" width="6.4" height="4.8" fill="#125474"/>
<text x="117" y="477.6" font-size="6.72">NRAS: <tspan font-weight="bold">Het</tspan></text>
<text x="117" y="484.6" font-size="6.72">NPM1: <tspan font-weight="bold">Het</tspan></text>
<text x="117" y="491.6" font-size="6.72">IDH2: <tspan font-weight="bold">Het</tspan></text>
<text x="117" y="498.6" font-size="6.72">TP53: <tspan font-weight="bold">Het</tspan></text>
<rect x="174.2" y="473.1" width="4.8" height="4.4" fill="#b08ef5"/>
<text x="182.2" y="477.3" font-size="6.72">NRAS: <tspan font-weight="bold">Het</tspan></text>
<text x="182.2" y="484.6" font-size="6.72">IDH2: <tspan font-weight="bold">Het</tspan></text>
<rect x="242.1" y="472.5" width="6" height="5.1" fill="#1fbf5b"/>
<text x="252.1" y="476.9" font-size="6.72">NRAS: <tspan font-weight="bold">Het</tspan></text>
<text x="252.1" y="483.7" font-size="6.72">NPM1: <tspan font-weight="bold">Hom</tspan></text>
<text x="252.1" y="490.5" font-size="6.72">IDH2: <tspan font-weight="bold">Het</tspan></text>
<rect x="330.1" y="473.3" width="5.8" height="5.2" fill="#f3a32a"/>
<text x="339.2" y="478.7" font-size="6.72">NRAS: <tspan font-weight="bold">Het</tspan></text>
<text x="339.2" y="485.3" font-size="6.72">IDH2: <tspan font-weight="bold">Het</tspan></text>
<text x="339.2" y="491.9" font-size="6.72">TP53: <tspan font-weight="bold">Het</tspan></text>
<rect x="395.5" y="474.3" width="5.5" height="4.6" fill="#6a3ec0"/>
<text x="404.1" y="478.7" font-size="6.72">NPM1: <tspan font-weight="bold">Het</tspan></text>
<text x="404.1" y="485.6" font-size="6.72">IDH2: <tspan font-weight="bold">Het</tspan></text>
</svg>
</body></html>
